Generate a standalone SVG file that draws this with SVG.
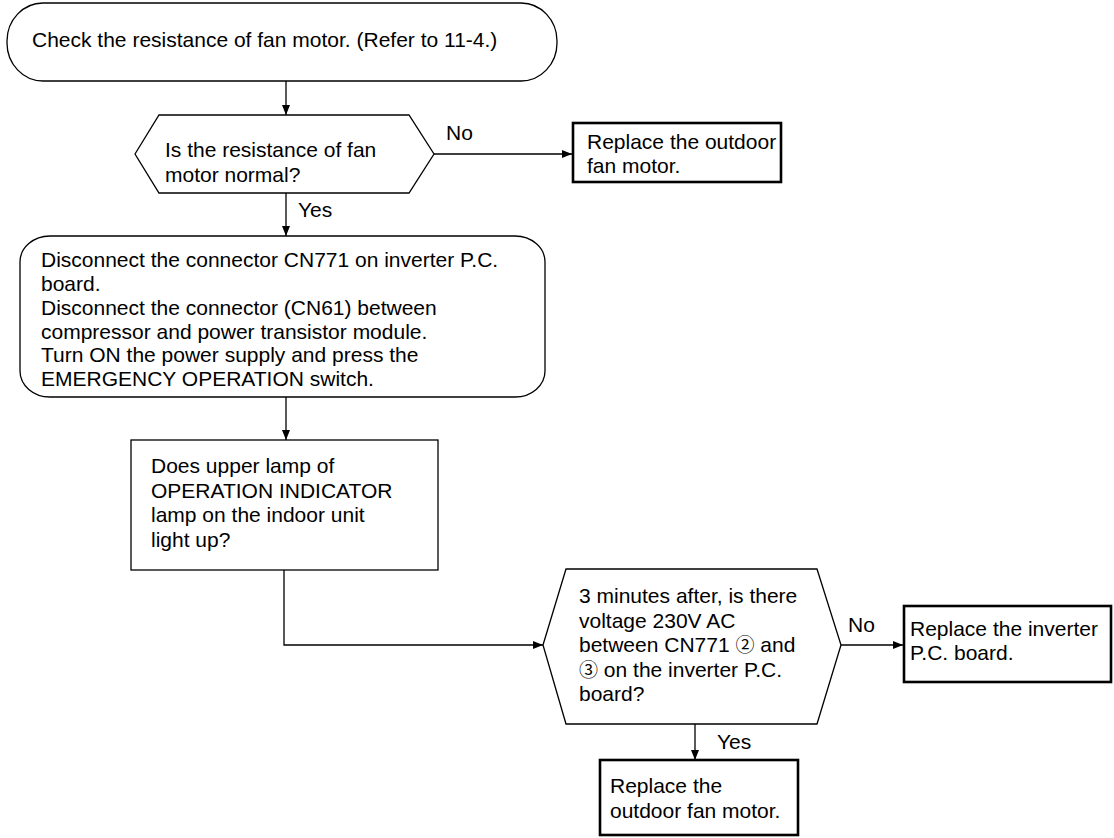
<svg xmlns="http://www.w3.org/2000/svg" width="1114" height="838" viewBox="0 0 1114 838">
<style>
text{font-family:"Liberation Sans","Noto Sans CJK JP",Arial,sans-serif;font-size:21px;fill:#000}
.cd{font-family:"Noto Sans CJK JP","Liberation Sans",sans-serif;font-size:19px}
.shape{fill:#fff;stroke:#000;stroke-width:1.3}
.thick{fill:#fff;stroke:#000;stroke-width:2.6}
.conn{fill:none;stroke:#000;stroke-width:1.3}
</style>
<defs>
<marker id="arr" viewBox="0 0 10 8" refX="10" refY="4" markerWidth="10" markerHeight="8" markerUnits="userSpaceOnUse" orient="auto">
<path d="M0,0 L10,4 L0,8 Z" fill="#000"/>
</marker>
</defs>
<rect width="1114" height="838" fill="#fff"/>
<g id="connectors">
<line class="conn" x1="286" y1="81" x2="286" y2="115" marker-end="url(#arr)"/>
<line class="conn" x1="434" y1="154" x2="572" y2="154" marker-end="url(#arr)"/>
<line class="conn" x1="286" y1="193" x2="286" y2="236" marker-end="url(#arr)"/>
<line class="conn" x1="286" y1="397" x2="286" y2="440" marker-end="url(#arr)"/>
<polyline class="conn" points="284,570 284,645 543,645" marker-end="url(#arr)"/>
<line class="conn" x1="841" y1="645" x2="903" y2="645" marker-end="url(#arr)"/>
<line class="conn" x1="695" y1="724" x2="695" y2="760" marker-end="url(#arr)"/>
<text x="446" y="140">No</text>
<text x="298" y="217">Yes</text>
<text x="848" y="632">No</text>
<text x="717" y="749">Yes</text>
</g>
<g id="start">
<rect class="shape" x="7" y="3" width="550" height="78" rx="36" ry="38"/>
<text x="32" y="47">Check the resistance of fan motor. (Refer to 11-4.)</text>
</g>
<g id="decision1">
<polygon class="shape" points="135,154 159,115 409,115 434,154 409,193 159,193"/>
<text x="165" y="157">Is the resistance of fan</text>
<text x="165" y="182">motor normal?</text>
</g>
<g id="replaceFan1">
<rect class="thick" x="573" y="123" width="208" height="59"/>
<text x="587" y="149">Replace the outdoor</text>
<text x="587" y="173">fan motor.</text>
</g>
<g id="disconnect">
<rect class="shape" x="20" y="236" width="525" height="161" rx="30" ry="26"/>
<text x="41" y="267">Disconnect the connector CN771 on inverter P.C.</text>
<text x="41" y="291">board.</text>
<text x="41" y="315">Disconnect the connector (CN61) between</text>
<text x="41" y="339">compressor and power transistor module.</text>
<text x="41" y="362">Turn ON the power supply and press the</text>
<text x="41" y="386">EMERGENCY OPERATION switch.</text>
</g>
<g id="lampCheck">
<rect class="shape" x="131" y="440" width="307" height="130"/>
<text x="151" y="473">Does upper lamp of</text>
<text x="151" y="498">OPERATION INDICATOR</text>
<text x="151" y="522">lamp on the indoor unit</text>
<text x="151" y="547">light up?</text>
</g>
<g id="decision2">
<polygon class="shape" points="543,645 566,569 817,569 841,645 817,724 566,724"/>
<text x="579" y="603">3 minutes after, is there</text>
<text x="579" y="628">voltage 230V AC</text>
<text x="579" y="652">between CN771 <tspan class="cd">②</tspan> and</text>
<text x="579" y="677"><tspan class="cd">③</tspan> on the inverter P.C.</text>
<text x="579" y="701">board?</text>
</g>
<g id="replaceInverter">
<rect class="thick" x="904" y="606" width="207" height="76"/>
<text x="910" y="636">Replace the inverter</text>
<text x="910" y="660">P.C. board.</text>
</g>
<g id="replaceFan2">
<rect class="thick" x="600" y="760" width="198" height="75"/>
<text x="610" y="793">Replace the</text>
<text x="610" y="818">outdoor fan motor.</text>
</g>
</svg>
